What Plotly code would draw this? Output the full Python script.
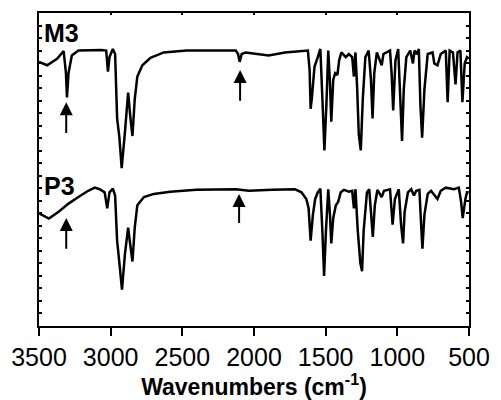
import plotly.graph_objects as go

# Wavenumbers (cm^-1) and transmittance (arbitrary units, offset)
m3_wn = [3500, 3443, 3374, 3328, 3312, 3305, 3294, 3271, 3225, 3065, 3031, 3019, 3008, 2985, 2969,
         2955, 2939, 2923, 2900, 2878, 2864, 2848, 2832, 2814, 2779, 2722, 2630, 2470, 2127, 2111,
         2100, 2086, 2058, 1898, 1784, 1624, 1612, 1605, 1596, 1578, 1555, 1537, 1521, 1509, 1495,
         1482, 1470, 1461, 1447, 1434, 1418, 1406, 1390, 1360, 1338, 1315, 1303, 1292, 1280, 1269,
         1255, 1241, 1223, 1200, 1184, 1173, 1161, 1143, 1109, 1097, 1051, 1040, 1029, 1013, 994,
         978, 967, 955, 937, 910, 891, 880, 864, 850, 839, 827, 811, 788, 754, 742,
         720, 697, 662, 649, 635, 612, 594, 580, 560, 546, 530, 514, 502]
m3_t = [84.4, 83.3, 85.4, 87.8, 80.8, 73.0, 80.8, 86.4, 88.0, 88.2, 88.0, 81.3, 85.9, 88.5, 86.9,
        66.3, 60.2, 50.4, 62.2, 74.6, 67.4, 60.7, 72.5, 79.7, 83.3, 85.7, 87.4, 88.0, 88.0, 86.9,
        84.4, 86.9, 87.4, 86.4, 87.4, 88.0, 81.8, 69.4, 73.0, 82.8, 85.9, 88.5, 70.5, 56.1, 70.5,
        88.0, 77.7, 65.3, 78.7, 80.8, 80.2, 84.9, 87.4, 85.9, 86.9, 85.9, 79.7, 87.4, 75.6, 61.2,
        56.1, 72.5, 85.9, 88.0, 78.7, 66.3, 80.8, 87.4, 83.3, 86.9, 88.0, 80.8, 68.9, 84.9, 88.5,
        70.5, 59.1, 75.6, 85.9, 88.0, 83.9, 88.0, 86.9, 88.5, 70.5, 60.2, 75.6, 86.9, 87.4, 83.9,
        83.3, 86.9, 88.0, 71.5, 88.0, 87.4, 77.2, 87.4, 88.0, 71.5, 83.9, 85.9, 85.4]

p3_wn = [3500, 3431, 3363, 3294, 3225, 3157, 3111, 3077, 3042, 3024, 3008, 2985, 2969, 2955, 2939,
         2921, 2900, 2878, 2864, 2848, 2832, 2814, 2768, 2699, 2585, 2402, 2127, 2035, 1875, 1715,
         1669, 1635, 1619, 1605, 1589, 1573, 1555, 1537, 1523, 1511, 1498, 1482, 1470, 1461, 1447,
         1429, 1413, 1395, 1372, 1338, 1315, 1303, 1292, 1276, 1258, 1246, 1235, 1212, 1196, 1182,
         1171, 1157, 1139, 1109, 1093, 1051, 1042, 1033, 1017, 990, 974, 960, 949, 926, 903,
         884, 868, 846, 834, 825, 811, 788, 765, 742, 720, 697, 662, 605, 571, 555,
         544, 525, 514, 502]
p3_t = [36.0, 34.3, 36.5, 39.1, 41.2, 43.2, 44.2, 43.7, 42.7, 37.6, 42.7, 43.9, 41.7, 27.3, 20.1,
        11.6, 23.2, 31.4, 26.2, 20.6, 31.4, 38.6, 41.2, 42.2, 42.9, 43.5, 43.7, 43.2, 43.5, 43.7,
        42.7, 40.6, 37.6, 27.3, 35.5, 40.6, 42.7, 43.9, 30.4, 16.0, 30.4, 43.7, 35.5, 26.4, 34.5,
        38.6, 39.6, 42.7, 43.5, 42.9, 43.2, 37.6, 43.7, 30.4, 20.1, 17.5, 30.4, 42.7, 43.7, 35.5,
        28.5, 38.6, 43.5, 41.2, 43.2, 43.7, 38.6, 32.4, 40.6, 43.7, 32.4, 26.4, 36.5, 42.7, 43.7,
        41.7, 43.2, 43.5, 32.4, 24.7, 35.5, 42.2, 43.2, 41.7, 40.6, 43.2, 44.2, 43.7, 44.2, 39.6,
        34.5, 40.6, 42.7, 42.7]

# Arrows: (wavenumber, tail value, head value)
arrow_wn = [3310, 2097, 3310, 2104]
arrow_tail = [61.2, 71.5, 24.2, 32.4]
arrow_head = [71.5, 81.8, 34.5, 42.2]

series_labels = ["M3", "P3"]
label_y = [93.6, 44.8]
x_ticks = [3500, 3000, 2500, 2000, 1500, 1000, 500]

FONT = "Liberation Sans, Arial, sans-serif"

fig = go.Figure()
fig.add_trace(go.Scatter(x=m3_wn, y=m3_t, mode="lines", line=dict(color="black", width=2.5),
                         name="M3", showlegend=False))
fig.add_trace(go.Scatter(x=p3_wn, y=p3_t, mode="lines", line=dict(color="black", width=2.5),
                         name="P3", showlegend=False))
# invisible trace to activate the top axis
fig.add_trace(go.Scatter(x=[3500, 500], y=[0, 0], xaxis="x2", mode="lines",
                         line=dict(width=0), hoverinfo="skip", showlegend=False))

for wn, t, h in zip(arrow_wn, arrow_tail, arrow_head):
    fig.add_annotation(x=wn, y=h, ax=wn, ay=t, xref="x", yref="y", axref="x", ayref="y",
                       showarrow=True, arrowhead=2, arrowsize=1.3, arrowwidth=2,
                       arrowcolor="black", text="")

for lab, ly in zip(series_labels, label_y):
    fig.add_annotation(x=3480, y=ly, xref="x", yref="y", text="<b>" + lab + "</b>",
                       showarrow=False, xanchor="left", yanchor="middle",
                       font=dict(family=FONT, size=25, color="black"))

fig.update_layout(
    width=501, height=400,
    margin=dict(l=36, r=28, t=11, b=65),
    paper_bgcolor="white", plot_bgcolor="white",
    font=dict(family=FONT, color="black"),
    xaxis=dict(range=[3500, 500], tickvals=x_ticks, ticks="outside", ticklen=8, tickwidth=2,
               tickcolor="black", showline=True, linewidth=2, linecolor="black", mirror=True,
               showgrid=False, zeroline=False, tickfont=dict(size=25, family=FONT),
               title=dict(text="<b>Wavenumbers (cm<sup>-1</sup>)</b>",
                          font=dict(size=23, family=FONT), standoff=2)),
    xaxis2=dict(range=[3500, 500], overlaying="x", side="top", tickvals=x_ticks,
                ticks="inside", ticklen=2, tickwidth=1.5, tickcolor="black",
                showticklabels=False, showline=False, showgrid=False, zeroline=False),
    yaxis=dict(range=[0, 100], dtick=4, ticks="inside", ticklen=3, tickwidth=1.5,
               tickcolor="black", showticklabels=False, showline=True, linewidth=2,
               linecolor="black", mirror="ticks", showgrid=False, zeroline=False),
)

fig.write_html("out.html")
